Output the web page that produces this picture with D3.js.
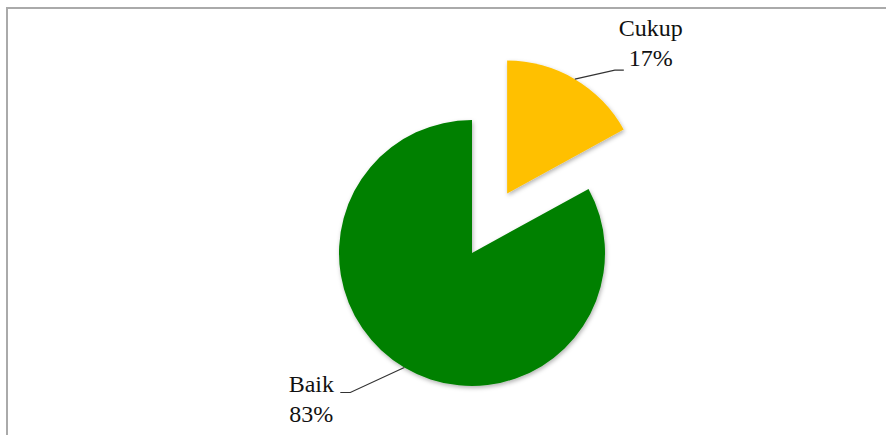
<!DOCTYPE html>
<html>
<head>
<meta charset="utf-8">
<script src="https://cdn.jsdelivr.net/npm/d3@7"></script>
<style>
  body { margin: 0; background: #fff; }
  text { font-family: "Liberation Serif", "Times New Roman", serif; fill: #111; }
</style>
</head>
<body>
<div id="chart"></div>
<script>
// 数据
var categories = ["Cukup", "Baik"];
var values = [17, 83];
var colors = ["#ffc000", "#008000"];

var width = 886, height = 435;
var cx = 472, cy = 253, radius = 133;
var explode = 69; // Cukup 扇区外移距离

var svg = d3.select("#chart").append("svg")
    .attr("width", width)
    .attr("height", height);

// 阴影
var defs = svg.append("defs");
defs.append("filter")
    .attr("id", "shadow")
    .attr("x", "-20%").attr("y", "-20%")
    .attr("width", "140%").attr("height", "140%")
    .append("feDropShadow")
    .attr("dx", 1).attr("dy", 2)
    .attr("stdDeviation", 2)
    .attr("flood-color", "#000")
    .attr("flood-opacity", 0.3);

// 外框
svg.append("rect")
    .attr("x", 7).attr("y", 8)
    .attr("width", width + 20).attr("height", height + 20)
    .attr("fill", "none")
    .attr("stroke", "#aaaaaa")
    .attr("stroke-width", 2);

var pie = d3.pie().sort(null).value(d => d);
var arcs = pie(values);
var arc = d3.arc().innerRadius(0).outerRadius(radius);

var g = svg.append("g")
    .attr("transform", "translate(" + cx + "," + cy + ")");

function mid(d) { return (d.startAngle + d.endAngle) / 2; }
function offset(i) { return i === 0 ? explode : 0; }

g.selectAll("path.slice")
    .data(arcs)
    .enter().append("path")
    .attr("class", "slice")
    .attr("d", arc)
    .attr("fill", (d, i) => colors[i])
    .attr("filter", "url(#shadow)")
    .attr("transform", (d, i) => {
        var a = mid(d), o = offset(i);
        return "translate(" + (o * Math.sin(a)) + "," + (-o * Math.cos(a)) + ")";
    });

// 标签布局（引导线折点、文字位置，相对扇区边缘点）
var labelLayout = [
    { bend: [40, -9], end: [49, -9], text: [76, -43], anchor: "middle" },
    { bend: [-54, 25], end: [-64, 25], text: [-93, 25], anchor: "middle" }
];
var lineGap = 30;

arcs.forEach(function (d, i) {
    var a = mid(d), r = radius + offset(i);
    var px = r * Math.sin(a), py = -r * Math.cos(a);
    var L = labelLayout[i];
    g.append("polyline")
        .attr("points", [[px, py], [px + L.bend[0], py + L.bend[1]], [px + L.end[0], py + L.end[1]]]
            .map(p => p.join(",")).join(" "))
        .attr("fill", "none")
        .attr("stroke", "#333")
        .attr("stroke-width", 1.2);
    var t = g.append("text")
        .attr("text-anchor", L.anchor)
        .attr("font-size", 24);
    t.append("tspan")
        .attr("x", px + L.text[0]).attr("y", py + L.text[1])
        .text(categories[i]);
    t.append("tspan")
        .attr("x", px + L.text[0]).attr("y", py + L.text[1] + lineGap)
        .text(Math.round(d.value / d3.sum(values) * 100) + "%");
});
</script>
</body>
</html>
